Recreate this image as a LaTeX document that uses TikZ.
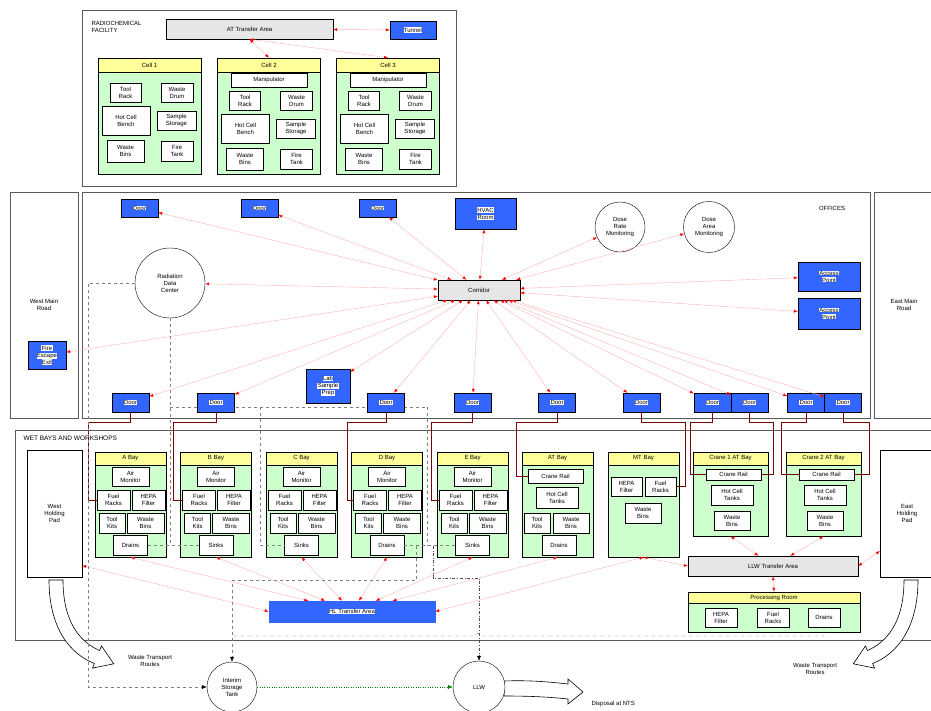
\documentclass[tikz,border=0pt]{standalone}
\usepackage{fontspec}
\setmainfont{Liberation Sans}
\usepackage{tikz}
\usetikzlibrary{arrows.meta,positioning,calc}
\definecolor{bayblue}{HTML}{3366FF}
\definecolor{hdryellow}{HTML}{FFFF99}
\definecolor{cellgreen}{HTML}{CCFFCC}
\definecolor{grayfill}{HTML}{E6E6E6}
\newcommand{\wt}[1]{{\setlength{\fboxsep}{0.4pt}\colorbox{white}{#1}}}

\begin{document}
\begin{tikzpicture}[x=1pt,y=-1pt,
  font=\fontsize{6}{7}\selectfont,
  sz/.style 2 args={minimum width=#1, minimum height=#2},
  area/.style={draw=gray!70!black, line width=0.9pt},
  cellbox/.style={draw, fill=cellgreen, line width=0.5pt},
  hdr/.style={draw, fill=hdryellow, inner sep=0pt, align=center},
  item/.style={draw, fill=white, inner sep=0.5pt, align=center},
  bluebox/.style={draw, fill=bayblue, inner sep=0.5pt, align=center},
  graybox/.style={draw, fill=grayfill, inner sep=1pt, align=center},
  ring/.style={draw, circle, fill=white, inner sep=0pt, align=center},
  link/.style={red!30, line width=0.4pt, {Latex[red,length=4pt,width=3pt]}-{Latex[red,length=4pt,width=3pt]}},
  duct/.style={draw=red!50!black, line width=0.6pt},
  aux/.style={gray, dashed, line width=0.4pt},
  aux2/.style={black!70, dash dot, line width=0.4pt},
  hollow/.style={draw, fill=white, line width=0.6pt}
]
\useasboundingbox (0,0) rectangle (931,711);

% frames
\draw[area] (82,10) rectangle (456,186);
\draw[area] (10,192) rectangle (78,418);
\draw[area] (82,192) rectangle (870,418);
\draw[area] (874,192) rectangle (940,418);
\draw[area] (15,430) rectangle (940,640);

% top facility
\node[align=left, anchor=north west] (fac) at (88,18) {RADIOCHEMICAL\\FACILITY};
\node[graybox, sz={167}{20}] (at0) at (249.5,29) {AT Transfer Area};
\node[bluebox, sz={46}{18}] (tun) at (413,30) {\wt{Tunnel}};
\foreach \i/\cx in {1/149.5, 2/269, 3/388} {
  \pgfmathsetmacro\dy{\i==1 ? 0 : 8}
  \node[cellbox, sz={103}{116}] (cell\i) at (\cx,116) {};
  \node[hdr, sz={103}{14}, anchor=north] at (cell\i.north) {Cell \i};
  \ifnum\i>1 \node[item, sz={76}{14}] at (\cx,80) {Manipulator}; \fi
  \node[item, sz={31}{19}] at (\cx-24,92.5+\dy) {Tool\\Rack};
  \node[item, sz={32}{19}] at (\cx+27.5,92.5+\dy) {Waste\\Drum};
  \node[item, sz={48}{29}] at (\cx-23.5,120.5+\dy) {Hot Cell\\Bench};
  \node[item, sz={39}{19}] at (\cx+27,120.5+\dy) {Sample\\Storage};
  \node[item, sz={37}{22}] at (\cx-24,151+\dy) {Waste\\Bins};
  \node[item, sz={32}{20}] at (\cx+27.5,151+\dy) {Fire\\Tank};
}
\draw[link] (at0) -- (tun);
\draw[link] (at0.south) -- (cell2.north);
\draw[link] (at0.south) -- (cell3.north);

% middle: roads, rooms and doors
\node[align=center] at (44,305) {West Main\\Road};
\node[align=center] at (904,305) {East Main\\Road};
\node at (832,208) {OFFICES};
\draw[aux] (170,407) -- (427,407);
\foreach \x [count=\k] in {139.5,259.5,377.5}
  \node[bluebox, sz={37}{18}] (dt\k) at (\x,208) {\wt{Door}};
\foreach \x [count=\k] in {130.5,216,386,472.5,557,641.5,712.5,749.5,806,843}
  \node[bluebox, sz={37}{19}] (db\k) at (\x,402.5) {\wt{Door}};
\node[bluebox, sz={61}{31}] (hvac) at (485.5,213.5) {\wt{HVAC}\\\wt{Room}};
\node[ring, minimum size=70] (lc) at (170,283) {Radiation\\Data\\Center};
\node[ring, minimum size=50] (rc1) at (620,227) {Dose\\Rate\\Monitoring};
\node[ring, minimum size=51] (rc2) at (709,227) {Dose\\Area\\Monitoring};
\node[bluebox, sz={62}{29}] (ap1) at (829,276.5) {\wt{Access}\\\wt{Point}};
\node[bluebox, sz={62}{31}] (ap2) at (829,313.5) {\wt{Access}\\\wt{Point}};
\node[bluebox, sz={38}{28}] (fex) at (47,355) {\wt{Fire}\\\wt{Escape}\\\wt{Exit}};
\node[bluebox, sz={44}{34}] (lab) at (328,386) {\wt{Lab}\\\wt{Sample}\\\wt{Prep}};
\node[graybox, sz={82}{20}] (cor) at (479,290) {Corridor};
\foreach \t in {dt1,dt2,dt3,hvac,rc1,rc2,lc,ap1,ap2,fex,lab,db1,db2,db3,db4,db5,db6,db7,db8,db9,db10}
  \draw[link] (cor) -- (\t);

% lower: bays and workshops
\node[anchor=west, font=\fontsize{6.5}{7.5}\selectfont] at (20,438) {WET BAYS AND WORKSHOPS};
\node[draw, fill=white, sz={55}{127}, align=center] (westpad) at (54.5,513.5) {West\\Holding\\Pad};
\node[draw, fill=white, sz={54}{127}, align=center] (eastpad) at (907,513.5) {East\\Holding\\Pad};
\foreach \n/\lab/\dr [count=\i] in {A/A Bay/Drains, B/B Bay/Sinks, C/C Bay/Sinks, D/D Bay/Drains, E/E Bay/Sinks} {
  \pgfmathsetmacro\bx{130.5+(\i-1)*85.5}
  \node[cellbox, sz={71}{105}] (bay\n) at (\bx,504.5) {};
  \node[hdr, sz={71}{13}, anchor=north] at (bay\n.north) {\lab};
  \node[item, sz={37}{19}] at (\bx,476.5) {Air\\Monitor};
  \node[item, sz={33}{20}] (fr\n) at (\bx-17,500) {Fuel\\Racks};
  \node[item, sz={33}{20}] at (\bx+18,500) {HEPA\\Filter};
  \node[item, sz={26}{20}] at (\bx-18.5,523) {Tool\\Kits};
  \node[item, sz={37}{20}] at (\bx+15,523) {Waste\\Bins};
  \node[item, sz={34}{20}] (dr\n) at (\bx,545.5) {\dr};
}
\node[cellbox, sz={71}{105}] (bayAT) at (557.5,504.5) {};
\node[hdr, sz={71}{13}, anchor=north] at (bayAT.north) {AT Bay};
\node[item, sz={55}{14}] (railAT) at (555.5,476) {Crane Rail};
\node[item, sz={42}{21}] at (557,497.5) {Hot Cell\\Tanks};
\node[item, sz={26}{20}] at (537,523) {Tool\\Kits};
\node[item, sz={36}{20}] at (571,523) {Waste\\Bins};
\node[item, sz={34}{20}] at (559,545.5) {Drains};
\node[cellbox, sz={71}{105}] (bayMT) at (643.5,504.5) {};
\node[hdr, sz={71}{13}, anchor=north] at (bayMT.north) {MT Bay};
\node[item, sz={31}{19}] at (626.5,486.5) {HEPA\\Filter};
\node[item, sz={31}{19}] (frMT) at (660.5,486.5) {Fuel\\Racks};
\node[item, sz={36}{20}] at (643,513) {Waste\\Bins};
\foreach \k/\cx in {1/730.5, 2/823.5} {
  \node[cellbox, sz={75}{84}] (bayC\k) at (\cx,494) {};
  \node[hdr, sz={75}{13}, anchor=north] at (bayC\k.north) {Crane \k\ AT Bay};
  \node[item, sz={55}{11}] (rail\k) at (\cx+3,474.5) {Crane Rail};
  \node[item, sz={42}{20}] at (\cx+1.5,495) {Hot Cell\\Tanks};
  \node[item, sz={36}{19}] at (\cx+1.5,520.5) {Waste\\Bins};
}
\node[graybox, sz={170}{20}] (llwt) at (773,566) {LLW Transfer Area};
\node[cellbox, sz={172}{40}] (proc) at (774,612) {};
\node[hdr, sz={172}{11}, anchor=north] at (proc.north) {Processing Room};
\node[item, sz={32}{19}] at (721,617.5) {HEPA\\Filter};
\node[item, sz={32}{19}] at (773,617.5) {Fuel\\Racks};
\node[item, sz={32}{19}] (drP) at (824,617.5) {Drains};
\node[draw=bayblue, fill=bayblue, sz={166}{21}] (hl) at (352,611.5) {\wt{HL Transfer Area}};

\foreach \b in {bayA,bayB,bayC,bayD,bayE,bayAT}
  \draw[link] (\b.south) -- (hl);
\draw[link] (westpad.-62) -- (hl.west);
\draw[link] (bayMT.south) -- (hl.east);
\draw[link] (bayMT.south) -- (llwt.west);
\draw[link] (bayC1.south) -- (llwt);
\draw[link] (bayC2.south) -- (llwt);
\draw[link] (llwt.east) -- (eastpad.west |- 0,551);
\draw[link] (llwt.south) -- (proc.north);

% service runs from the doors
\draw[duct] (db1.south) |- (88,422) |- (frA.west);
\draw[duct] (db2.south) |- (173,422) |- (frB.west);
\draw[duct] (db3.south) |- (347,422) |- (frD.west);
\draw[duct] (db4.south) |- (431,422) |- (frE.west);
\draw[duct] (db5.south) |- (516,422) |- (railAT.west);
\draw[duct] (db6.south) |- (685,422) |- (frMT.east);
\draw[duct] (db7.south) |- (690,422) |- (rail1.west);
\draw[duct] (db8.south) |- (773,422) |- (rail1.east);
\draw[duct] (db9.south) |- (781,422) |- (rail2.west);
\draw[duct] (db10.south) |- (869,422) |- (rail2.east);

% outside: storage and disposal
\draw[hollow] (504,681) .. controls (530,680) and (550,682) .. (568,684) -- (568,679) -- (583,692)
  -- (568,704) -- (568,699) .. controls (550,697) and (530,696) .. (504,696) -- cycle;
\node[ring, minimum size=50] (tank) at (232,687) {Interim\\Storage\\Tank};
\node[ring, minimum size=52] (llw) at (479,687) {LLW};
\node[anchor=west] at (588,704) {Disposal at NTS};
\draw[hollow] (49,580) .. controls (49,628) and (70,654) .. (94.4,663.5) -- (92.5,668.1) -- (113.7,663.8)
  -- (101.5,645.9) -- (99.6,650.5) .. controls (80,642) and (63,622) .. (63,580) -- cycle;
\draw[hollow] (918,580) .. controls (918,628) and (897,654) .. (872.6,663.5) -- (874.5,668.1) -- (853.3,663.8)
  -- (865.5,645.9) -- (867.4,650.5) .. controls (887,642) and (904,622) .. (904,580) -- cycle;
\node[align=center] at (150,661) {Waste Transport\\Routes};
\node[align=center] at (815,669) {Waste Transport\\Routes};

% drain and monitoring lines
\draw[aux, -{Latex[black,length=5pt,width=4pt]}] (lc.west) -| (88,687) -- (tank.west);
\draw[aux] (lc.south) -- (170,545.5);
\draw[aux] (drA.east) -- (drB.west);
\draw[aux] (260,407) |- (drC.west);
\draw[aux] (427,407) -- (427,545.5);
\draw[aux] (drD.east) -- (drE.west);
\draw[aux, -{Latex[black,length=5pt,width=4pt]}] (416,545.5) |- (232,580) -- (tank.north);
\draw[aux2, -{Latex[black,length=5pt,width=4pt]}] (433,545.5) |- (479,578) -- (llw.north);
\draw[aux2] (drP.south) |- (482,636) arc (0:-180:3) -- (232,636);
\draw[green!50!black, dotted, -{Latex[green!50!black,length=5pt,width=4pt]}] (tank) -- (llw);
\end{tikzpicture}
\end{document}
